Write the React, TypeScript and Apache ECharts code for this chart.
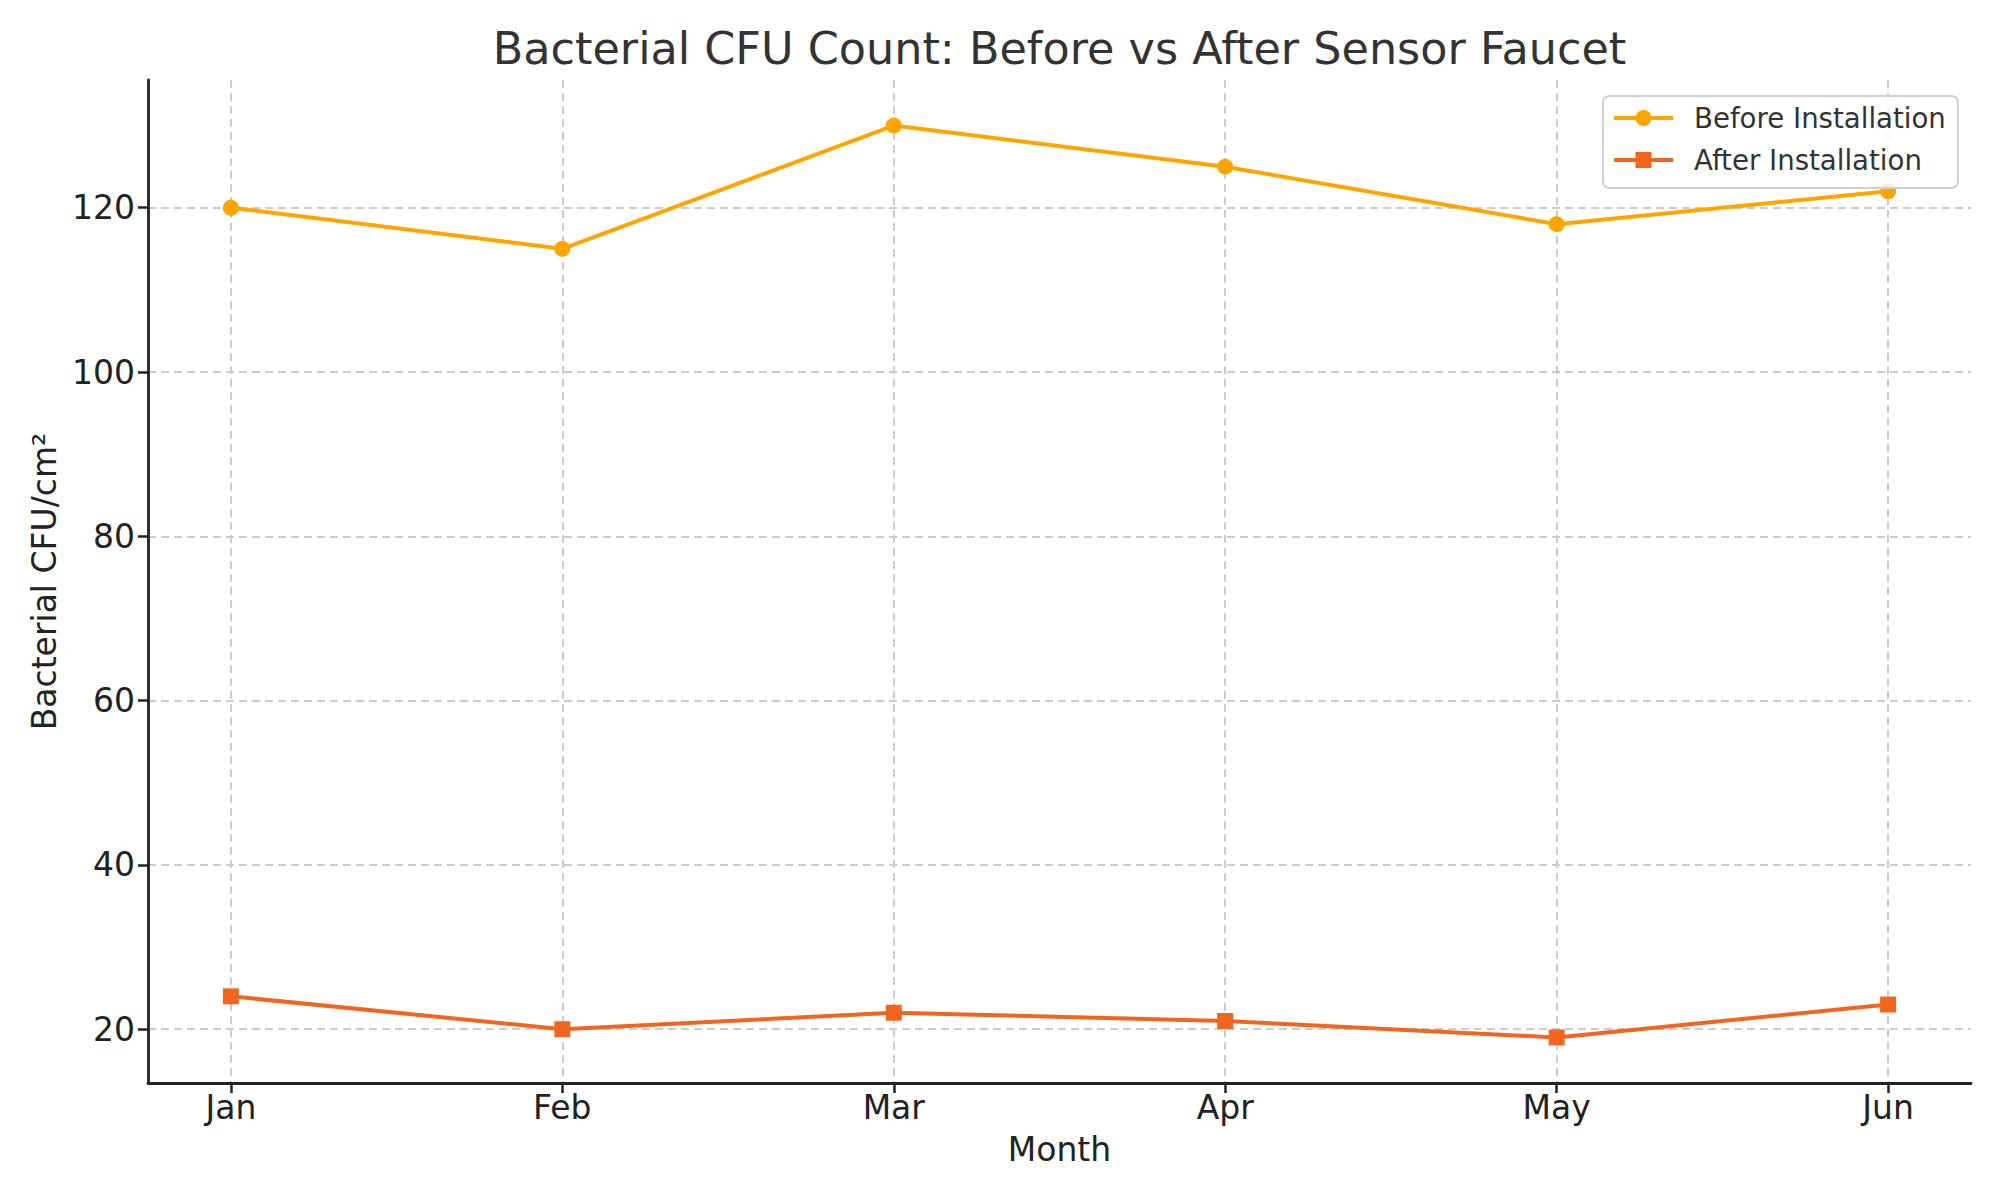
import React, { useEffect, useRef } from "react";
import * as echarts from "echarts";

const months = ["Jan", "Feb", "Mar", "Apr", "May", "Jun"];
const beforeValues = [120, 115, 130, 125, 118, 122];
const afterValues = [24, 20, 22, 21, 19, 23];
const yTicks = [20, 40, 60, 80, 100, 120];
const xTicks = [0, 1, 2, 3, 4, 5];

const FONT = "DejaVu Sans";

export default function App() {
  const ref = useRef<HTMLDivElement>(null);
  useEffect(() => {
    if (!ref.current) return;
    const chart = echarts.init(ref.current, undefined, { renderer: "svg" });
    const gridLine = { show: true, lineStyle: { color: "#cccccc", width: 2, type: [8, 5] as any } };
    chart.setOption({
      animation: false,
      backgroundColor: "#ffffff",
      textStyle: { fontFamily: FONT },
      title: {
        text: "Bacterial CFU Count: Before vs After Sensor Faucet",
        left: 1059.5,
        top: 26,
        padding: 0,
        textAlign: "center",
        textStyle: { fontFamily: FONT, fontSize: 44.5, fontWeight: "normal", color: "#333333" },
      },
      legend: {
        orient: "vertical",
        left: 1603,
        top: 96,
        padding: [8, 12, 14, 9],
        itemWidth: 59,
        itemHeight: 20,
        itemGap: 14,
        borderColor: "#d0d0d0",
        borderWidth: 2,
        borderRadius: 6,
        backgroundColor: "rgba(255,255,255,0.8)",
        lineStyle: { width: 4 },
        textStyle: { fontFamily: FONT, fontSize: 27.6, color: "#333333", padding: [0, 0, 0, 16] },
        data: ["Before Installation", "After Installation"],
      },
      grid: { left: 148, right: 29, top: 80, bottom: 117, containLabel: false },
      xAxis: {
        type: "value",
        min: -0.25,
        max: 5.25,
        name: "Month",
        nameLocation: "middle",
        nameGap: 50,
        nameTextStyle: { fontFamily: FONT, fontSize: 33, color: "#222222" },
        axisLine: { show: true, onZero: false, lineStyle: { color: "#222222", width: 2.8 } },
        axisTick: { show: true, customValues: xTicks, length: 10, lineStyle: { color: "#222222", width: 2.5 } },
        axisLabel: {
          customValues: xTicks,
          margin: 8,
          fontFamily: FONT,
          fontSize: 33,
          color: "#222222",
          formatter: (v: number) => months[Math.round(v)] ?? "",
        },
        splitLine: gridLine,
      },
      yAxis: {
        type: "value",
        min: 13.45,
        max: 135.55,
        name: "Bacterial CFU/cm²",
        nameLocation: "middle",
        nameGap: 84,
        nameTextStyle: { fontFamily: FONT, fontSize: 33, color: "#222222" },
        axisLine: { show: true, onZero: false, lineStyle: { color: "#222222", width: 2.8 } },
        axisTick: { show: true, customValues: yTicks, length: 10, lineStyle: { color: "#222222", width: 2.5 } },
        axisLabel: {
          customValues: yTicks,
          margin: 13,
          fontFamily: FONT,
          fontSize: 33,
          color: "#222222",
        },
        splitLine: gridLine,
      },
      series: [
        {
          name: "Before Installation",
          type: "line",
          data: beforeValues.map((v, i) => [i, v]),
          symbol: "circle",
          symbolSize: 16,
          color: "#FFA500",
          lineStyle: { width: 4, color: "#FFA500" },
          itemStyle: { color: "#FFA500" },
        },
        {
          name: "After Installation",
          type: "line",
          data: afterValues.map((v, i) => [i, v]),
          symbol: "rect",
          symbolSize: 16,
          color: "#F0651F",
          lineStyle: { width: 4, color: "#F0651F" },
          itemStyle: { color: "#F0651F" },
        },
      ],
    });
    return () => chart.dispose();
  }, []);
  return (
    <div
      ref={ref}
      style={{ position: "fixed", left: 0, top: 0, width: 2000, height: 1200, background: "#fff" }}
    />
  );
}
